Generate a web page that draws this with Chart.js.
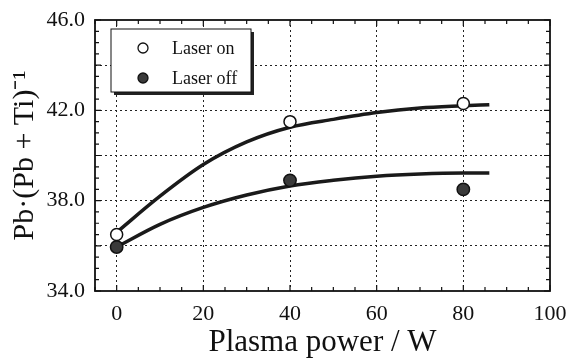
<!DOCTYPE html>
<html>
<head>
<meta charset="utf-8">
<script src="https://cdn.jsdelivr.net/npm/chart.js@4/dist/chart.umd.min.js"></script>
<style>
  html, body { margin: 0; padding: 0; background: #fff; }
  #wrap { width: 566px; height: 358px; position: relative; }
</style>
</head>
<body>
<div id="wrap"><canvas id="c"></canvas></div>
<script>
// measured points
var POWER = [0, 40, 80];
var LASER_ON = [36.5, 41.5, 42.3];
var LASER_OFF = [35.95, 38.9, 38.5];

// fitted curves
var FIT_X = [0, 10, 20, 30, 40, 50, 60, 70, 80, 86];
var FIT_ON = [36.6, 38.2, 39.6, 40.6, 41.25, 41.6, 41.9, 42.1, 42.2, 42.25];
var FIT_OFF = [35.95, 36.95, 37.7, 38.25, 38.65, 38.9, 39.08, 39.18, 39.22, 39.22];

var SERIES_LABELS = ['Laser on', 'Laser off'];
var X_LABEL_STEP = 20;
var Y_LABEL_STEP = 4;
var Y_GRID_STEP = 2;

var SERIF = '"Liberation Serif", "Times New Roman", serif';
var INK = '#111';

function pts(xs, ys) {
  return xs.map(function(x, i) { return { x: x, y: ys[i] }; });
}

// frame, inward ticks on all four sides and the boxed legend
var framePlugin = {
  id: 'frame',
  afterDraw: function(chart) {
    var ctx = chart.ctx;
    var a = chart.chartArea;
    var xs = chart.scales.x;
    var ys = chart.scales.y;
    ctx.save();
    ctx.strokeStyle = INK;
    ctx.lineWidth = 1.2;
    xs.ticks.forEach(function(t) {
      var px = xs.getPixelForValue(t.value);
      var len = t.value % X_LABEL_STEP === 0 ? 6 : 4;
      ctx.beginPath();
      ctx.moveTo(px, a.bottom); ctx.lineTo(px, a.bottom - len);
      ctx.moveTo(px, a.top); ctx.lineTo(px, a.top + len);
      ctx.stroke();
    });
    ys.ticks.forEach(function(t) {
      var py = ys.getPixelForValue(t.value);
      var len = t.value % Y_GRID_STEP === 0 ? 6 : 4;
      ctx.beginPath();
      ctx.moveTo(a.left, py); ctx.lineTo(a.left + len, py);
      ctx.moveTo(a.right, py); ctx.lineTo(a.right - len, py);
      ctx.stroke();
    });
    ctx.lineWidth = 1.8;
    ctx.strokeRect(a.left, a.top, a.right - a.left, a.bottom - a.top);

    // legend box with drop shadow
    var bx = a.left + 16, by = a.top + 9, bw = 140, bh = 63;
    ctx.fillStyle = '#222';
    ctx.fillRect(bx + 3, by + 3, bw, bh);
    ctx.fillStyle = '#fff';
    ctx.fillRect(bx, by, bw, bh);
    ctx.lineWidth = 1;
    ctx.strokeStyle = INK;
    ctx.strokeRect(bx, by, bw, bh);

    ctx.font = '18px ' + SERIF;
    ctx.textBaseline = 'middle';
    ctx.textAlign = 'left';
    [0, 1].forEach(function(i) {
      var ds = chart.data.datasets[i];
      var cy = by + 19 + i * 30;
      ctx.beginPath();
      ctx.arc(bx + 32, cy, 5, 0, Math.PI * 2);
      ctx.fillStyle = ds.backgroundColor;
      ctx.fill();
      ctx.lineWidth = 1.3;
      ctx.strokeStyle = ds.borderColor;
      ctx.stroke();
      ctx.fillStyle = INK;
      ctx.fillText(ds.label, bx + 61, cy + 1);
    });
    ctx.restore();
  }
};

new Chart(document.getElementById('c'), {
  type: 'scatter',
  data: {
    datasets: [{
      label: SERIES_LABELS[0],
      data: pts(POWER, LASER_ON),
      backgroundColor: '#fff',
      borderColor: INK,
      borderWidth: 1.5,
      pointRadius: 6
    }, {
      label: SERIES_LABELS[1],
      data: pts(POWER, LASER_OFF),
      backgroundColor: '#3a3a3a',
      borderColor: INK,
      borderWidth: 1.5,
      pointRadius: 6.2
    }, {
      type: 'line',
      label: 'fit on',
      data: pts(FIT_X, FIT_ON),
      borderColor: '#1a1a1a',
      borderWidth: 3.5,
      pointRadius: 0,
      cubicInterpolationMode: 'monotone',
      fill: false
    }, {
      type: 'line',
      label: 'fit off',
      data: pts(FIT_X, FIT_OFF),
      borderColor: '#1a1a1a',
      borderWidth: 3.5,
      pointRadius: 0,
      cubicInterpolationMode: 'monotone',
      fill: false
    }]
  },
  options: {
    responsive: true,
    maintainAspectRatio: false,
    animation: false,
    layout: {
      autoPadding: false,
      padding: { top: 20, right: 16, left: 0, bottom: 0 }
    },
    plugins: {
      legend: { display: false },
      tooltip: { enabled: false }
    },
    scales: {
      x: {
        type: 'linear',
        min: -5,
        max: 100,
        afterFit: function(s) {
          s.height = 67;
          s.paddingLeft = 0;
          s.paddingRight = 0;
        },
        border: { display: false, dash: [2, 3] },
        grid: {
          drawTicks: false,
          lineWidth: 1,
          color: function(c) {
            var v = c.tick && c.tick.value;
            return (v % X_LABEL_STEP === 0 && v > -5 && v < 100) ? '#222' : 'transparent';
          }
        },
        ticks: {
          stepSize: 5,
          autoSkip: false,
          maxRotation: 0,
          padding: 10,
          color: INK,
          font: { family: SERIF, size: 22 },
          callback: function(v) { return v % X_LABEL_STEP === 0 && v >= 0 ? String(v) : ''; }
        },
        title: {
          display: true,
          text: 'Plasma power / W',
          color: INK,
          font: { family: SERIF, size: 31, lineHeight: 1 },
          padding: { top: 0, bottom: 0 }
        }
      },
      y: {
        min: 34,
        max: 46,
        afterFit: function(s) {
          s.width = 95;
          s.paddingTop = 0;
          s.paddingBottom = 0;
        },
        border: { display: false, dash: [2, 3] },
        grid: {
          drawTicks: false,
          lineWidth: 1,
          color: function(c) {
            var v = c.tick && c.tick.value;
            return (v % Y_GRID_STEP === 0 && v > 34 && v < 46) ? '#222' : 'transparent';
          }
        },
        ticks: {
          stepSize: 0.5,
          autoSkip: false,
          padding: 10,
          color: INK,
          font: { family: SERIF, size: 22 },
          callback: function(v) { return (v - 34) % Y_LABEL_STEP === 0 ? v.toFixed(1) : ''; }
        },
        title: {
          display: true,
          text: 'Pb·(Pb + Ti)⁻¹',
          color: INK,
          font: { family: SERIF, size: 30, lineHeight: 1 },
          padding: { top: 10, bottom: 0 }
        }
      }
    }
  },
  plugins: [framePlugin]
});
</script>
</body>
</html>
